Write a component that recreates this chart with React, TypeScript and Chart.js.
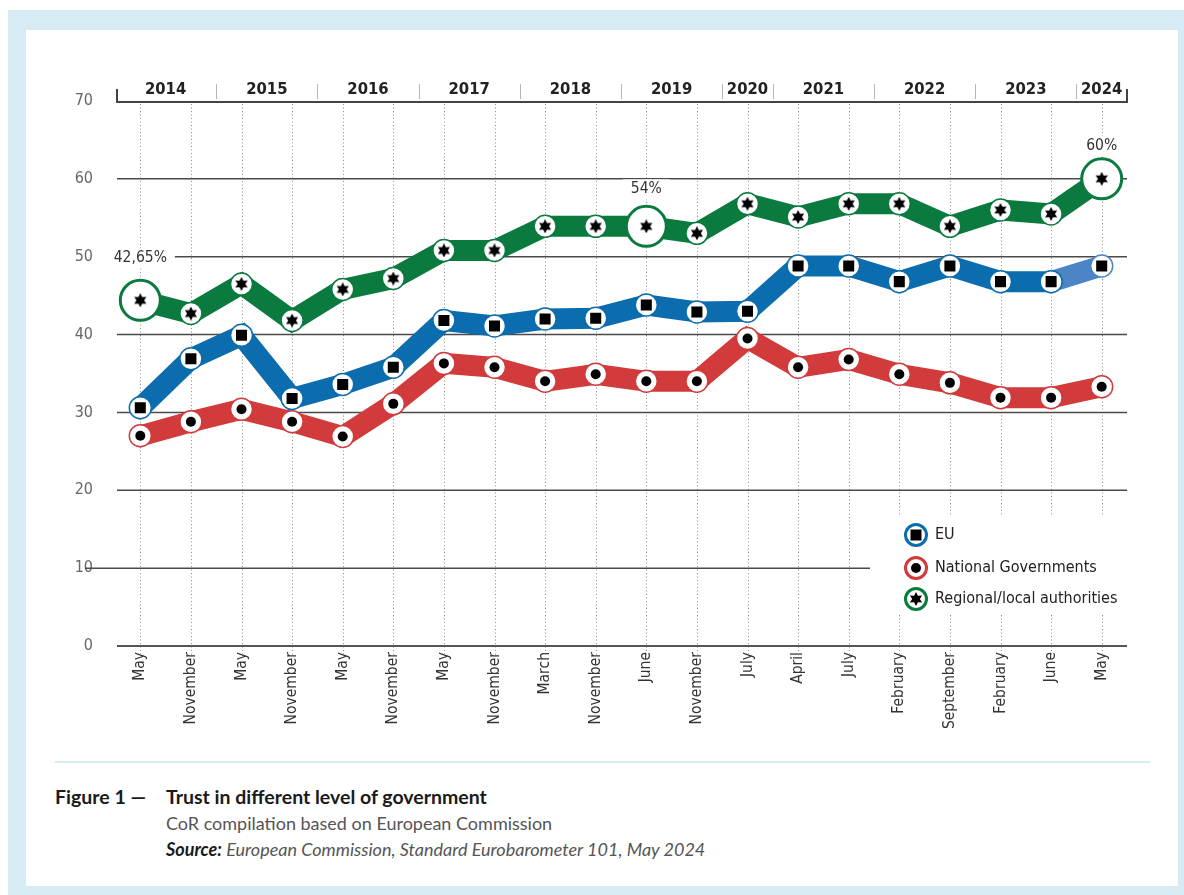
import React, { useEffect, useRef } from "react";
import { Chart, registerables } from "chart.js";

Chart.register(...registerables);

const categories = [
  "May", "November", "May", "November", "May", "November", "May", "November",
  "March", "November", "June", "November", "July", "April", "July", "February",
  "September", "February", "June", "May",
];
const years = ["2014", "2015", "2016", "2017", "2018", "2019", "2020", "2021", "2022", "2023", "2024"];
const yearSpans = [2, 2, 2, 2, 2, 2, 1, 2, 2, 2, 1];

const euValues = [30.6, 36.9, 39.9, 31.8, 33.6, 35.8, 41.8, 41.1, 42.0, 42.1, 43.8, 42.9, 43.0, 48.8, 48.8, 46.8, 48.8, 46.8, 46.8, 48.8];
const nationalValues = [27.0, 28.8, 30.4, 28.8, 26.9, 31.1, 36.3, 35.8, 34.0, 34.9, 34.0, 34.0, 39.5, 35.8, 36.8, 34.9, 33.8, 31.9, 31.9, 33.3];
const regionalValues = [44.4, 42.7, 46.5, 41.8, 45.8, 47.2, 50.8, 50.8, 53.9, 53.9, 53.9, 53.0, 56.8, 55.1, 56.8, 56.8, 53.9, 56.0, 55.5, 60.0];

const yMin = 0;
const yMax = 70;
const yStep = 10;
const gridValues = [10, 20, 30, 40, 50, 60];

const highlightIndices = [0, 10, 19];
const annotationIndices = [0, 10, 19];
const annotationTexts = ["42,65%", "54%", "60%"];
const annotationOffsets = [-42, -37, -33];

const seriesNames = ["EU", "National Governments", "Regional/local authorities"];
const GREEN = "#0a7a3e";
const BLUE = "#0b6cae";
const BLUE_LIGHT = "#4c84c6";
const RED = "#d23b3b";

const COND = '"Liberation Sans Narrow", "DejaVu Sans Condensed", "Roboto Condensed", sans-serif';
const CAPTION = 'Lato, "Open Sans", sans-serif';

function makeStar(size: number): HTMLCanvasElement {
  const c = document.createElement("canvas");
  c.width = size;
  c.height = size;
  const g = c.getContext("2d")!;
  const cx = size / 2;
  const cy = size / 2;
  const ro = size / 2;
  const ri = size / 2 * 0.55;
  g.fillStyle = "#000";
  g.beginPath();
  for (let i = 0; i < 12; i++) {
    const r = i % 2 === 0 ? ro : ri;
    const a = -Math.PI / 2 + (i * Math.PI) / 6;
    const px = cx + r * Math.cos(a);
    const py = cy + r * Math.sin(a);
    if (i === 0) g.moveTo(px, py);
    else g.lineTo(px, py);
  }
  g.closePath();
  g.fill();
  return c;
}

function drawMarker(ctx: CanvasRenderingContext2D, kind: number, x: number, y: number, star: HTMLCanvasElement) {
  ctx.fillStyle = "#000";
  if (kind === 0) {
    ctx.fillRect(x - 5.5, y - 5.5, 11, 11);
  } else if (kind === 1) {
    ctx.beginPath();
    ctx.arc(x, y, 5, 0, Math.PI * 2);
    ctx.fill();
  } else {
    ctx.drawImage(star, x - star.width / 2, y - star.height / 2);
  }
}

export default function App() {
  const ref = useRef<HTMLCanvasElement | null>(null);

  useEffect(() => {
    const canvas = ref.current;
    if (!canvas) return;
    const star = makeStar(14);
    const colors = [BLUE, RED, GREEN];

    const decor = {
      id: "decor",
      beforeDatasetsDraw(chart: any) {
        const { ctx, chartArea, scales } = chart;
        const { left, right, top, bottom } = chartArea;
        const x = scales.x;
        const y = scales.y;
        ctx.save();
        // vertical dotted lines
        ctx.strokeStyle = "#8c8c8c";
        ctx.lineWidth = 1;
        ctx.setLineDash([1, 2.5]);
        for (let i = 0; i < categories.length; i++) {
          const px = Math.round(x.getPixelForValue(i)) + 0.5;
          ctx.beginPath();
          ctx.moveTo(px, top + 3);
          ctx.lineTo(px, bottom + 10);
          ctx.stroke();
        }
        ctx.setLineDash([]);
        // horizontal grid
        ctx.strokeStyle = "#4a4a4a";
        ctx.lineWidth = 1.5;
        for (const v of gridValues) {
          const py = y.getPixelForValue(v);
          ctx.beginPath();
          ctx.moveTo(v === 10 ? left - 30 : left + 2, py);
          ctx.lineTo(right, py);
          ctx.stroke();
        }
        // bottom axis
        ctx.lineWidth = 2;
        ctx.strokeStyle = "#555";
        const py0 = y.getPixelForValue(yMin);
        ctx.beginPath();
        ctx.moveTo(left + 2, py0);
        ctx.lineTo(right, py0);
        ctx.stroke();
        // top axis with year brackets
        const pyT = y.getPixelForValue(yMax) + 1;
        ctx.strokeStyle = "#444";
        ctx.lineWidth = 2;
        ctx.beginPath();
        ctx.moveTo(left + 2, pyT - 13);
        ctx.lineTo(left + 2, pyT);
        ctx.lineTo(right, pyT);
        ctx.lineTo(right, pyT - 13);
        ctx.stroke();
        const half = (x.getPixelForValue(1) - x.getPixelForValue(0)) / 2;
        let idx = 0;
        ctx.font = `bold 16.5px ${COND}`;
        ctx.fillStyle = "#222";
        ctx.textAlign = "center";
        ctx.textBaseline = "middle";
        for (let k = 0; k < years.length; k++) {
          const s = x.getPixelForValue(idx) - half;
          const e = x.getPixelForValue(idx + yearSpans[k] - 1) + half;
          ctx.fillText(years[k], (s + e) / 2, pyT - 12);
          if (k < years.length - 1) {
            ctx.strokeStyle = "#b5b5b5";
            ctx.lineWidth = 1;
            ctx.beginPath();
            ctx.moveTo(Math.round(e) + 0.5, pyT - 18);
            ctx.lineTo(Math.round(e) + 0.5, pyT - 3);
            ctx.stroke();
          }
          idx += yearSpans[k];
        }
        // white boxes behind annotations
        ctx.font = `15.5px ${COND}`;
        for (let a = 0; a < annotationIndices.length; a++) {
          const i = annotationIndices[a];
          const px = x.getPixelForValue(i);
          const py = y.getPixelForValue(regionalValues[i]) + annotationOffsets[a];
          const w = ctx.measureText(annotationTexts[a]).width;
          ctx.fillStyle = "#fff";
          ctx.fillRect(px - w / 2 - 8, py - 10, w + 16, 20);
        }
        // legend box
        ctx.fillStyle = "#fff";
        ctx.fillRect(right - 257, bottom - 131, 257, 100);
        ctx.restore();
      },
      afterDatasetsDraw(chart: any) {
        const { ctx, chartArea, scales } = chart;
        const { right, bottom } = chartArea;
        const x = scales.x;
        const y = scales.y;
        ctx.save();
        ctx.font = `15.5px ${COND}`;
        ctx.fillStyle = "#333";
        ctx.textAlign = "center";
        ctx.textBaseline = "middle";
        for (let a = 0; a < annotationIndices.length; a++) {
          const i = annotationIndices[a];
          const px = x.getPixelForValue(i);
          const py = y.getPixelForValue(regionalValues[i]) + annotationOffsets[a];
          ctx.fillText(annotationTexts[a], px, py);
        }
        // legend
        const rows = [-111, -78, -47];
        const cx = right - 211;
        for (let k = 0; k < 3; k++) {
          const cy = bottom + rows[k];
          ctx.beginPath();
          ctx.arc(cx, cy, 10.5, 0, Math.PI * 2);
          ctx.fillStyle = "#fff";
          ctx.fill();
          ctx.lineWidth = 3;
          ctx.strokeStyle = colors[k];
          ctx.stroke();
          drawMarker(ctx, k, cx, cy, star);
          ctx.fillStyle = "#222";
          ctx.textAlign = "left";
          ctx.font = `16px ${COND}`;
          ctx.fillText(seriesNames[k], cx + 19, cy);
        }
        ctx.restore();
      },
    };

    const lineDs = (label: string, data: number[], color: string, order: number, extra: any = {}) => ({
      label,
      data,
      borderColor: color,
      borderWidth: 21,
      borderJoinStyle: "miter",
      borderCapStyle: "butt",
      tension: 0,
      fill: false,
      pointBackgroundColor: "#fff",
      pointBorderColor: color,
      pointBorderWidth: 1.5,
      pointRadius: 11,
      order,
      ...extra,
    });

    const markerDs = (label: string, data: number[], style: any, radius: number) => ({
      label,
      data,
      showLine: false,
      pointStyle: style,
      pointRadius: radius,
      pointBackgroundColor: "#000",
      pointBorderColor: "#000",
      pointBorderWidth: 0,
      order: 0,
    });

    const chart = new Chart(canvas, {
      type: "line",
      data: {
        labels: categories,
        datasets: [
          markerDs("EU markers", euValues, "rect", 7.8),
          markerDs("National markers", nationalValues, "circle", 5),
          markerDs("Regional markers", regionalValues, star, 7),
          lineDs(seriesNames[0], euValues, BLUE, 2, {
            segment: {
              borderColor: (c: any) => (c.p0DataIndex === euValues.length - 2 ? BLUE_LIGHT : undefined),
            },
            pointBorderColor: (c: any) => (c.dataIndex === euValues.length - 1 ? BLUE_LIGHT : BLUE),
          }),
          lineDs(seriesNames[1], nationalValues, RED, 3),
          lineDs(seriesNames[2], regionalValues, GREEN, 1, {
            pointRadius: (c: any) => (highlightIndices.includes(c.dataIndex) ? 20 : 11),
            pointBorderWidth: (c: any) => (highlightIndices.includes(c.dataIndex) ? 3 : 1.5),
          }),
        ],
      },
      options: {
        responsive: false,
        animation: false,
        events: [],
        layout: { padding: { left: 0, top: 71, right: 51, bottom: 0 } },
        plugins: {
          legend: { display: false },
          tooltip: { enabled: false },
        },
        scales: {
          x: {
            offset: true,
            grid: { display: false, drawTicks: false },
            border: { display: false },
            ticks: {
              autoSkip: false,
              minRotation: 90,
              maxRotation: 90,
              padding: 6,
              color: "#333",
              font: { family: COND, size: 15.5 },
            },
            afterFit(s: any) {
              s.height = 114;
            },
          },
          y: {
            min: yMin,
            max: yMax,
            grid: { display: false, drawTicks: false },
            border: { display: false },
            ticks: {
              stepSize: yStep,
              padding: 22,
              color: "#666",
              font: { family: COND, size: 16 },
            },
            afterFit(s: any) {
              s.width = 89;
            },
          },
        },
      },
      plugins: [decor],
    } as any);

    return () => chart.destroy();
  }, []);

  return (
    <div style={{ position: "absolute", left: 0, top: 0, width: 1184, height: 895, background: "#fff", overflow: "hidden" }}>
      <div style={{ position: "absolute", left: 8, top: 10, width: 1190, height: 900, background: "#d7ebf4" }} />
      <div style={{ position: "absolute", left: 26, top: 30, width: 1152, height: 856, background: "#fff" }} />
      <canvas
        ref={ref}
        width={1152}
        height={730}
        style={{ position: "absolute", left: 26, top: 30, width: 1152, height: 730 }}
      />
      <div style={{ position: "absolute", left: 55, top: 761, width: 1095, height: 2, background: "#d7ebf4" }} />
      <div style={{ position: "absolute", left: 55, top: 784, fontFamily: CAPTION, fontWeight: 700, fontSize: 19.5, color: "#1a1a1a", lineHeight: "26px", whiteSpace: "nowrap" }}>
        Figure 1 —
      </div>
      <div style={{ position: "absolute", left: 166, top: 784, fontFamily: CAPTION, fontSize: 18, color: "#555", lineHeight: "26px", whiteSpace: "nowrap" }}>
        <div style={{ fontWeight: 700, fontSize: 19.5, color: "#1a1a1a", lineHeight: "26px" }}>Trust in different level of government</div>
        <div style={{ lineHeight: "26px" }}>CoR compilation based on European Commission</div>
        <div style={{ fontStyle: "italic", lineHeight: "26px" }}>
          <span style={{ fontWeight: 700, color: "#1a1a1a" }}>Source:</span> European Commission, Standard Eurobarometer 101, May 2024
        </div>
      </div>
    </div>
  );
}
